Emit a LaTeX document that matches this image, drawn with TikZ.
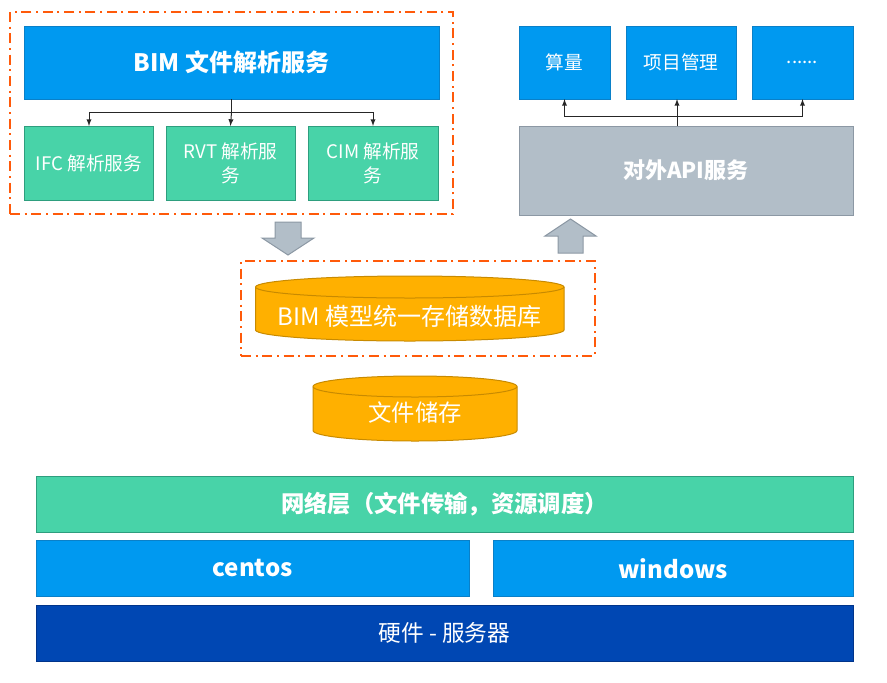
\documentclass[tikz,border=0pt]{standalone}
\usepackage{fontspec}
\setmainfont{Noto Sans CJK SC}
\usetikzlibrary{shapes,arrows,fit,positioning}
\definecolor{svcblue}{HTML}{0099F0}
\definecolor{svcblueline}{HTML}{0A80C8}
\definecolor{svcgreen}{HTML}{48D3A8}
\definecolor{svcgreenline}{HTML}{2E9E7E}
\definecolor{apigray}{HTML}{B2BEC8}
\definecolor{apigrayline}{HTML}{8C98A4}
\definecolor{dbgold}{HTML}{FFB000}
\definecolor{dbgoldline}{HTML}{C88A00}
\definecolor{hwnavy}{HTML}{0047B3}
\definecolor{hwnavyline}{HTML}{00348A}
\definecolor{frameorange}{HTML}{FF5A0A}
\def\px{0.75pt}

\begin{document}
\begin{tikzpicture}[x=0.75pt,y=-0.75pt,% pixel grid, y going down
				every node/.style={
					rectangle,
					align=center,		% so that "\\" breaks the line
					inner sep=0pt,
					outer sep=0pt,
					text=white
				},
				bluebox/.style={draw=svcblueline,fill=svcblue,line width=\px},
				greenbox/.style={draw=svcgreenline,fill=svcgreen,line width=\px},
				graybox/.style={draw=apigrayline,fill=apigray,line width=\px},
				navybox/.style={draw=hwnavyline,fill=hwnavy,line width=\px},
				dashframe/.style={draw=frameorange,line width=1.5pt,
					dash pattern=on 7.5pt off 3.5pt on 1.5pt off 3.5pt},
				cylbody/.style={draw=dbgoldline,fill=dbgold,line width=\px},
				blockarrow/.style={draw=apigrayline,fill=apigray,line width=\px},
				link/.style={draw=black!85,line width=\px,-latex}
			]
			\useasboundingbox (0,0) rectangle (887,682);

			% parsing services
			\node[bluebox,minimum width=415*\px,minimum height=73*\px,
				font=\fontsize{18}{22}\selectfont\bfseries](BIM) at (231.5,62.5){BIM 文件解析服务};
			\node[greenbox,minimum width=129*\px,minimum height=74*\px,
				font=\fontsize{14}{18}\selectfont](IFC) at (89,163){IFC 解析服务};
			\node[greenbox,minimum width=129*\px,minimum height=74*\px,
				font=\fontsize{14}{18}\selectfont](RVT) at (230.5,163){RVT 解析服\\务};
			\node[greenbox,minimum width=130*\px,minimum height=74*\px,
				font=\fontsize{14}{18}\selectfont](CIM) at (373,163){CIM 解析服\\务};
			\node[dashframe,fit=(BIM)(IFC)(CIM),inner sep=14*\px](F1){};
			\coordinate (S1) at (231.5,112);
			\draw[link] (BIM.south) -- (S1) -| (IFC.north);
			\draw[link] (S1) -- (RVT.north);
			\draw[link] (S1) -| (CIM.north);

			% api services
			\node[bluebox,minimum width=91*\px,minimum height=73*\px,
				font=\fontsize{14}{18}\selectfont](SL) at (564.5,62.5){算量};
			\node[bluebox,minimum width=110*\px,minimum height=73*\px,
				font=\fontsize{14}{18}\selectfont](XM) at (681,62.5){项目管理};
			\node[bluebox,minimum width=101*\px,minimum height=73*\px,
				font=\fontsize{14}{18}\selectfont](MORE) at (802.5,62.5){......};
			\node[graybox,minimum width=334*\px,minimum height=89*\px,
				font=\fontsize{16.5}{20}\selectfont\bfseries](API) at (686,170.5){对外API服务};
			\coordinate (S2) at (677,116);
			\draw[draw=black!85,line width=\px] (API.north -| S2) -- (S2);
			\draw[link] (S2) -| (SL.south);
			\draw[link] (S2) -- (XM.south -| S2);
			\draw[link] (S2) -| (MORE.south);

			% block arrows
			\draw[blockarrow] (275,222) -- (301,222) -- (301,238) -- (314,238) -- (288,255)
				-- (262,238) -- (275,238) -- cycle;
			\draw[blockarrow] (558,253) -- (583,253) -- (583,236) -- (596,236) -- (570.5,219)
				-- (545,236) -- (558,236) -- cycle;

			% storage
			\node[dashframe,minimum width=354*\px,minimum height=95*\px](F2) at (418,308.5){};
			\draw[cylbody] (255.5,287) -- (255.5,330)
				arc[start angle=180,end angle=360,x radius=154.25*\px,y radius=11*\px]
				-- (564,287)
				arc[start angle=0,end angle=180,x radius=154.25*\px,y radius=11*\px] -- cycle;
			\draw[cylbody] (255.5,287)
				arc[start angle=180,end angle=360,x radius=154.25*\px,y radius=11*\px];
			\node[font=\fontsize{18}{22}\selectfont](DB) at (409.75,316){BIM 模型统一存储数据库};
			\draw[cylbody] (313,386.5) -- (313,430.5)
				arc[start angle=180,end angle=360,x radius=102*\px,y radius=10.5*\px]
				-- (517,386.5)
				arc[start angle=0,end angle=180,x radius=102*\px,y radius=10.5*\px] -- cycle;
			\draw[cylbody] (313,386.5)
				arc[start angle=180,end angle=360,x radius=102*\px,y radius=10.5*\px];
			\node[font=\fontsize{17.5}{21}\selectfont](FS) at (415,413){文件储存};

			% base layers
			\node[greenbox,minimum width=817*\px,minimum height=56*\px,
				font=\fontsize{17.5}{21}\selectfont\bfseries](NET) at (444.5,504){网络层（文件传输，资源调度）};
			\node[bluebox,minimum width=433*\px,minimum height=56*\px,
				font=\fontsize{18}{22}\selectfont\bfseries](CENTOS) at (252.5,568.5){centos};
			\node[bluebox,minimum width=360*\px,minimum height=56*\px,
				font=\fontsize{18}{22}\selectfont\bfseries](WIN) at (673,568.5){windows};
			\node[navybox,minimum width=817*\px,minimum height=56*\px,
				font=\fontsize{17}{21}\selectfont](HW) at (444.5,633){硬件 - 服务器};
		\end{tikzpicture}
\end{document}
